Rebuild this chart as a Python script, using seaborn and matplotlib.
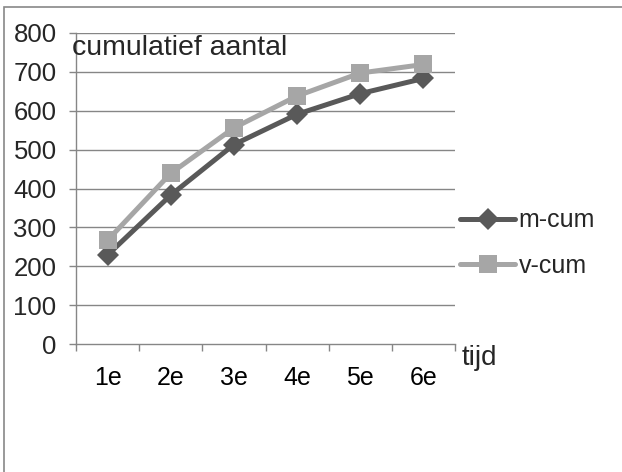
import matplotlib
matplotlib.use("Agg")
import matplotlib.pyplot as plt
from matplotlib.patches import Rectangle
from matplotlib.ticker import FixedLocator
import seaborn as sns
import pandas as pd

categories = ["1e", "2e", "3e", "4e", "5e", "6e"]
m_cum = [229, 383, 513, 591, 644, 683]
v_cum = [267, 439, 556, 638, 697, 719]
series_names = ["m-cum", "v-cum"]
y_ticks = [0, 100, 200, 300, 400, 500, 600, 700, 800]

df = pd.DataFrame({
    "tijd": categories * 2,
    "waarde": m_cum + v_cum,
    "reeks": [series_names[0]] * len(categories) + [series_names[1]] * len(categories),
})

sns.set_theme(style="white")
plt.rcParams["font.family"] = ["Liberation Sans", "DejaVu Sans"]

fig = plt.figure(figsize=(6.22, 4.72), dpi=100)
ax = fig.add_axes([76 / 622, 1 - 344 / 472, 379 / 622, 311 / 472])

dark = "#595959"
light = "#a6a6a6"
grid_c = "#868686"

sns.lineplot(data=df, x="tijd", y="waarde", hue="reeks", style="reeks",
             markers={"m-cum": "D", "v-cum": "s"}, dashes=False,
             palette={"m-cum": dark, "v-cum": light},
             linewidth=3.6, markersize=11, markeredgewidth=0,
             sort=False, ax=ax, legend=True)
for line in ax.lines:
    if line.get_marker() == "D":
        line.set_markersize(11)
    elif line.get_marker() == "s":
        line.set_markersize(12.5)

ax.set_xlim(-0.5, 5.5)
ax.set_ylim(0, 800)
ax.set_yticks(y_ticks)
ax.set_yticklabels([str(v) for v in y_ticks], fontsize=18.5)
ax.set_xticks(range(len(categories)))
ax.set_xticklabels(categories, fontsize=18)
ax.xaxis.set_minor_locator(FixedLocator([i - 0.5 for i in range(len(categories) + 1)]))
ax.tick_params(axis="x", which="major", length=0, pad=16, colors="black")
ax.tick_params(axis="x", which="minor", length=5, width=1, color=grid_c, direction="out", bottom=True)
ax.tick_params(axis="y", which="major", length=5, width=1, color=grid_c, direction="out", left=True, pad=9)
ax.set_xlabel("")
ax.set_ylabel("")

for y in y_ticks[1:]:
    ax.axhline(y, color=grid_c, linewidth=1, zorder=0)

for s in ["top", "right"]:
    ax.spines[s].set_visible(False)
for s in ["left", "bottom"]:
    ax.spines[s].set_color(grid_c)
    ax.spines[s].set_linewidth(1)

fig.text(72 / 622, 1 - 55 / 472, "cumulatief aantal", fontsize=20.5,
         ha="left", va="baseline")
fig.text(462 / 622, 1 - 358 / 472, "tijd", fontsize=20, ha="left", va="center")

handles, labels = ax.get_legend_handles_labels()
ax.legend(handles=handles, labels=labels, loc="center left",
          bbox_to_anchor=(460 / 622, 1 - 243 / 472), bbox_transform=fig.transFigure,
          frameon=False, fontsize=18, handlelength=2.2, handletextpad=0.15,
          labelspacing=0.85, borderaxespad=0, borderpad=0)

fig.patches.append(Rectangle((4 / 622, -0.05), 1.1, 1 - 7 / 472 + 0.05,
                             transform=fig.transFigure, fill=False,
                             edgecolor="#888888", linewidth=1.2))

fig.savefig("out.png", dpi=100)
